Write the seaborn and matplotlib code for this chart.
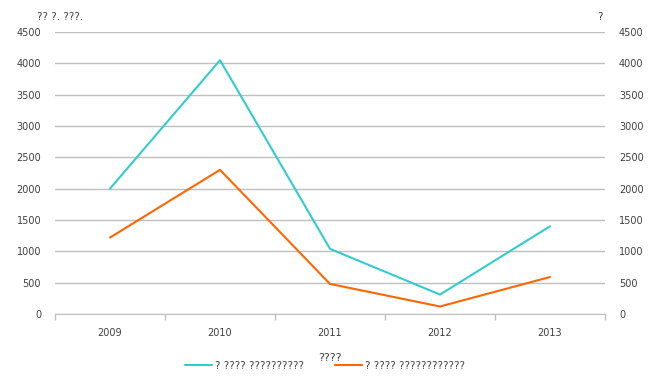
import pandas as pd
import seaborn as sns
import matplotlib.pyplot as plt
from matplotlib.ticker import FixedLocator

years = ['2009', '2010', '2011', '2012', '2013']
series_a = [2000, 4050, 1040, 310, 1400]
series_b = [1220, 2300, 480, 120, 590]
name_a = '? ???? ??????????'
name_b = '? ???? ????????????'
y_ticks = list(range(0, 5000, 500))

df = pd.DataFrame({
    'year': years * 2,
    'value': series_a + series_b,
    'series': [name_a] * 5 + [name_b] * 5,
})

sns.set_style('white')
plt.rcParams['font.family'] = ['DejaVu Sans']
grid_c = '#bfbfbf'
txt_c = '#404040'

fig = plt.figure(figsize=(6.48, 3.9), dpi=100)
ax = fig.add_axes([55 / 648, 1 - 314 / 390, 550 / 648, 282 / 390])

sns.lineplot(data=df, x='year', y='value', hue='series',
             palette=['#33cccc', '#ff6600'], linewidth=1.5, ax=ax,
             legend=False, sort=False)

ax.set_xlim(-0.5, 4.5)
ax.set_ylim(0, 4500)
ax.set_yticks(y_ticks)
ax.yaxis.grid(True, color=grid_c, linewidth=1)
ax.set_axisbelow(True)
for s in ['top', 'right', 'left']:
    ax.spines[s].set_visible(False)
ax.spines['bottom'].set_color(grid_c)
ax.tick_params(axis='y', length=0, labelsize=7, labelcolor=txt_c, pad=10)
ax.tick_params(axis='x', which='major', length=0, labelsize=7, labelcolor=txt_c, pad=10)
ax.xaxis.set_minor_locator(FixedLocator([-0.5, 0.5, 1.5, 2.5, 3.5, 4.5]))
ax.tick_params(axis='x', which='minor', bottom=True, length=4, color=grid_c, width=1)
ax.set_xlabel('')
ax.set_ylabel('')

ax2 = ax.twinx()
ax2.set_ylim(0, 4500)
ax2.set_yticks(y_ticks)
for s in ax2.spines.values():
    s.set_visible(False)
ax2.tick_params(axis='y', length=0, labelsize=7, labelcolor=txt_c, pad=10)

fig.text(60 / 648, 1 - 17 / 390, '?? ?. ???.', fontsize=7.5, color=txt_c, ha='center', va='center')
fig.text(600 / 648, 1 - 17 / 390, '?', fontsize=7.5, color=txt_c, ha='center', va='center')
fig.text(330 / 648, 1 - 358 / 390, '????', fontsize=8, color=txt_c, ha='center', va='center')

h1 = plt.Line2D([], [], color='#33cccc', linewidth=1.5)
h2 = plt.Line2D([], [], color='#ff6600', linewidth=1.5)
fig.legend([h1, h2], [name_a, name_b], loc='center', bbox_to_anchor=(325 / 648, 1 - 366 / 390),
           ncol=2, frameon=False, fontsize=7.5, handlelength=2.6, columnspacing=3,
           handletextpad=0.3, labelcolor=txt_c)

fig.savefig('out.png', dpi=100)
